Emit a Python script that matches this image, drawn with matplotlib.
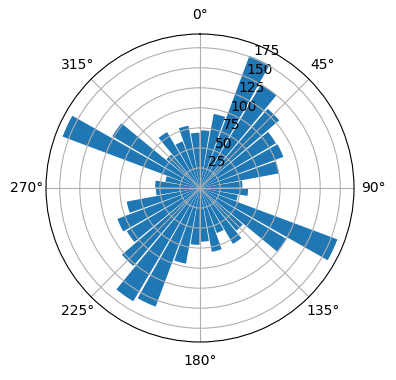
import numpy as np
import matplotlib
matplotlib.use("Agg")
import matplotlib.pyplot as plt

# Direction bins (degrees, bin centres) and bar lengths
directions_deg = [5, 15, 25, 35, 45, 55, 65, 75, 85,
                  95, 105, 115, 125, 135, 145, 155, 165, 175,
                  185, 195, 205, 215, 225, 235, 245, 255, 265,
                  275, 285, 295, 305, 315, 325, 335, 345, 355]
counts = [72, 94, 176, 150, 130, 110, 111, 100, 53,
          60, 48, 183, 125, 70, 81, 60, 81, 67,
          71, 96, 158, 164, 128, 106, 110, 93, 55,
          56, 44, 183, 127, 55, 81, 62, 79, 69]

fig = plt.figure(figsize=(3.96, 3.80), dpi=100)
ax = fig.add_axes([46/396, 38/380, 308/396, 308/380], projection='polar')
ax.set_theta_zero_location('N')
ax.set_theta_direction(-1)

theta = np.deg2rad(directions_deg)
width = np.deg2rad(10) * 0.9
ax.bar(theta, counts, width=width, bottom=0.0, color='#1f77b4')

fig.savefig('out.png', dpi=100)
